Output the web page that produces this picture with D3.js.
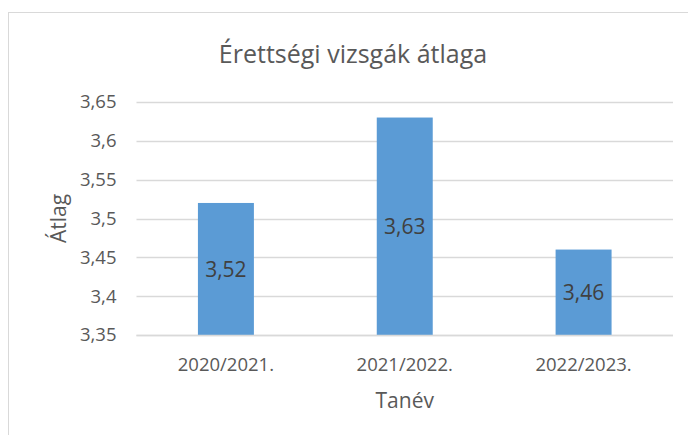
<!DOCTYPE html>
<html>
<head>
<meta charset="utf-8">
<script src="https://cdn.jsdelivr.net/npm/d3@7"></script>
<style>
	body { margin: 0; background: #fff; }
	svg { display: block; font-family: "Open Sans", sans-serif; }
</style>
</head>
<body>
<svg id="chart" width="688" height="435"></svg>
<script>
// Chart data
var categories = ["2020/2021.", "2021/2022.", "2022/2023."];
var averages = [3.52, 3.63, 3.46];
var yTicks = [3.35, 3.4, 3.45, 3.5, 3.55, 3.6, 3.65];

var title = "Érettségi vizsgák átlaga";
var xTitle = "Tanév";
var yTitle = "Átlag";

var textColor = "#595959";
var gridColor = "#d9d9d9";
var barColor = "#5b9bd5";

var svg = d3.select("#chart");

//Plot area
var plot = { left: 136.5, right: 673, top: 102, bottom: 335 };

var x = d3.scaleBand()
	.domain(categories)
	.range([plot.left, plot.right])
	.paddingInner(0.687)
	.paddingOuter(0.3435);

var y = d3.scaleLinear()
	.domain([3.35, 3.65])
	.range([plot.bottom, plot.top]);

var fmt = v => String(+v.toFixed(2)).replace(".", ",");

//Outer chart border
svg.append("rect")
	.attr("x", 8.5)
	.attr("y", 12.5)
	.attr("width", 700)
	.attr("height", 440)
	.attr("fill", "none")
	.attr("stroke", gridColor);

//Title
svg.append("text")
	.attr("x", 353)
	.attr("y", 63)
	.attr("text-anchor", "middle")
	.attr("font-size", 25)
	.attr("fill", textColor)
	.text(title);

//Gridlines
svg.append("g").selectAll("line").data(yTicks).enter().append("line")
	.attr("x1", plot.left)
	.attr("x2", plot.right)
	.attr("y1", d => Math.round(y(d)) + 0.5)
	.attr("y2", d => Math.round(y(d)) + 0.5)
	.attr("stroke", gridColor)
	.attr("stroke-width", 1.3);

//Y axis
var yAxis = svg.append("g")
	.attr("transform", "translate(" + plot.left + ",0)")
	.call(d3.axisLeft(y).tickValues(yTicks).tickFormat(fmt).tickSize(0).tickPadding(20));
yAxis.select(".domain").remove();
yAxis.selectAll("text")
	.attr("font-family", "Open Sans, sans-serif")
	.attr("font-size", 18.5)
	.attr("fill", textColor);

//Bars
svg.append("g").selectAll("rect").data(averages).enter().append("rect")
	.attr("x", (d, i) => x(categories[i]))
	.attr("y", d => y(d))
	.attr("width", x.bandwidth())
	.attr("height", d => y(3.35) - y(d))
	.attr("fill", barColor);

//Axis line at bottom
svg.append("line")
	.attr("x1", plot.left)
	.attr("x2", plot.right)
	.attr("y1", plot.bottom + 0.5)
	.attr("y2", plot.bottom + 0.5)
	.attr("stroke", gridColor)
	.attr("stroke-width", 1.3);

//Data labels
svg.append("g").selectAll("text").data(averages).enter().append("text")
	.attr("x", (d, i) => x(categories[i]) + x.bandwidth() / 2)
	.attr("y", d => (y(d) + y(3.35)) / 2)
	.attr("dy", "0.36em")
	.attr("text-anchor", "middle")
	.attr("font-size", 21)
	.attr("fill", "#404040")
	.text(d => fmt(d));

//X axis
var xAxis = svg.append("g")
	.attr("transform", "translate(0," + plot.bottom + ")")
	.call(d3.axisBottom(x).tickSize(0).tickPadding(0));
xAxis.select(".domain").remove();
xAxis.selectAll("text")
	.attr("dy", null)
	.attr("y", 35.5)
	.attr("font-family", "Open Sans, sans-serif")
	.attr("font-size", 18.5)
	.attr("fill", textColor);

//Axis titles
svg.append("text")
	.attr("x", (plot.left + plot.right) / 2)
	.attr("y", 408)
	.attr("text-anchor", "middle")
	.attr("font-size", 21)
	.attr("fill", textColor)
	.text(xTitle);

svg.append("text")
	.attr("transform", "translate(66," + (plot.top + plot.bottom) / 2 + ") rotate(-90)")
	.attr("text-anchor", "middle")
	.attr("font-size", 21)
	.attr("fill", textColor)
	.text(yTitle);
</script>
</body>
</html>
